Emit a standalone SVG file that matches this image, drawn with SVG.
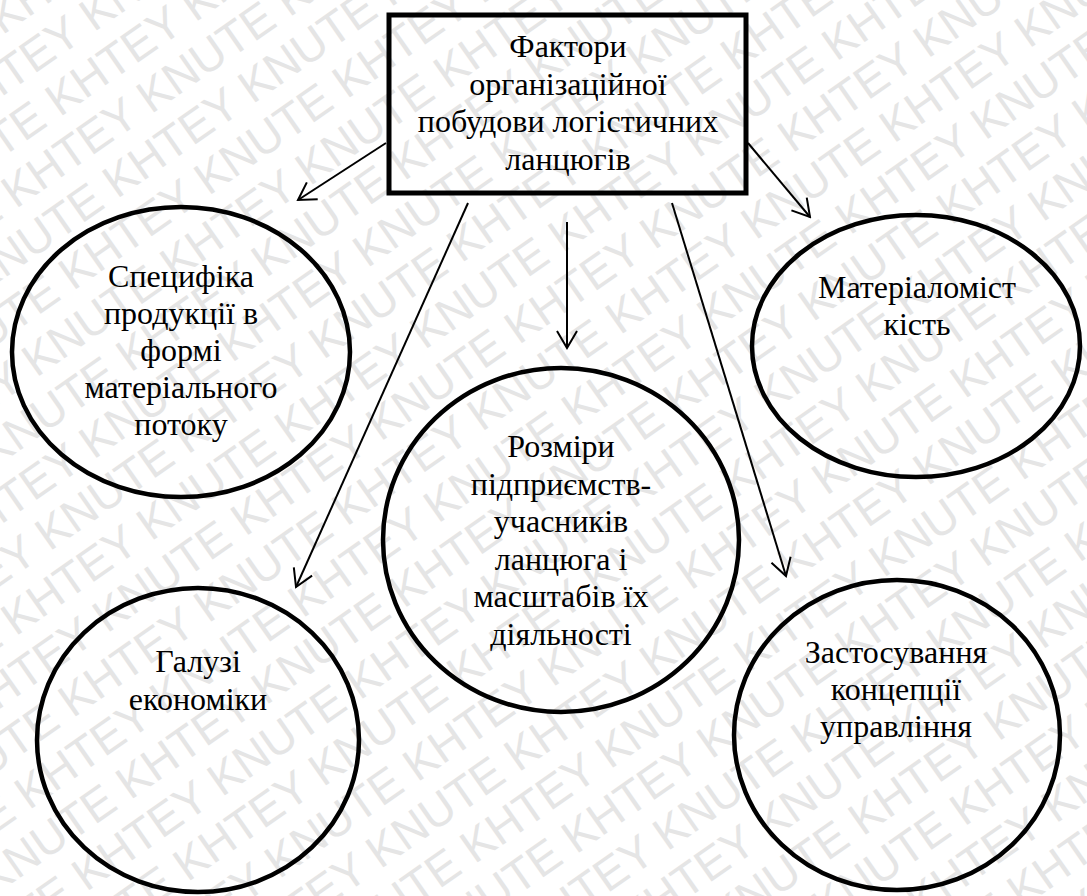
<svg xmlns="http://www.w3.org/2000/svg" width="1087" height="896" viewBox="0 0 1087 896">
<style>
.wm{font-family:"Liberation Sans",Arial,sans-serif;font-size:46px;fill:#e5e5e5;}
.t{font-family:"Liberation Serif","Times New Roman",serif;font-size:32px;fill:#000;text-anchor:middle;}
.node{fill:none;stroke:#000;stroke-width:4.5;}
.box{fill:none;stroke:#000;stroke-width:5;}
.conn{stroke:#000;stroke-width:2;fill:none;marker-end:url(#arr);}
</style>
<defs>
<marker id="arr" markerUnits="userSpaceOnUse" viewBox="-19 -12 21 24" refX="0" refY="0" markerWidth="21" markerHeight="24" orient="auto">
<path d="M-17,-10 L0,0 L-17,10" fill="none" stroke="#000" stroke-width="2"/>
</marker>
</defs>
<rect width="1087" height="896" fill="#fff"/>
<g id="watermark" transform="rotate(-35 543 448)">
<text class="wm" x="-500" y="-300">KNUTE KHTEY KNUTE KHTEY KNUTE KHTEY KNUTE KHTEY KNUTE KHTEY KNUTE KHTEY KNUTE KHTEY</text>
<text class="wm" x="-420" y="-250">KHTEY KNUTE KHTEY KNUTE KHTEY KNUTE KHTEY KNUTE KHTEY KNUTE KHTEY KNUTE KHTEY KNUTE</text>
<text class="wm" x="-500" y="-200">KNUTE KHTEY KNUTE KHTEY KNUTE KHTEY KNUTE KHTEY KNUTE KHTEY KNUTE KHTEY KNUTE KHTEY</text>
<text class="wm" x="-420" y="-150">KHTEY KNUTE KHTEY KNUTE KHTEY KNUTE KHTEY KNUTE KHTEY KNUTE KHTEY KNUTE KHTEY KNUTE</text>
<text class="wm" x="-500" y="-100">KNUTE KHTEY KNUTE KHTEY KNUTE KHTEY KNUTE KHTEY KNUTE KHTEY KNUTE KHTEY KNUTE KHTEY</text>
<text class="wm" x="-420" y="-50">KHTEY KNUTE KHTEY KNUTE KHTEY KNUTE KHTEY KNUTE KHTEY KNUTE KHTEY KNUTE KHTEY KNUTE</text>
<text class="wm" x="-500" y="0">KNUTE KHTEY KNUTE KHTEY KNUTE KHTEY KNUTE KHTEY KNUTE KHTEY KNUTE KHTEY KNUTE KHTEY</text>
<text class="wm" x="-420" y="50">KHTEY KNUTE KHTEY KNUTE KHTEY KNUTE KHTEY KNUTE KHTEY KNUTE KHTEY KNUTE KHTEY KNUTE</text>
<text class="wm" x="-500" y="100">KNUTE KHTEY KNUTE KHTEY KNUTE KHTEY KNUTE KHTEY KNUTE KHTEY KNUTE KHTEY KNUTE KHTEY</text>
<text class="wm" x="-420" y="150">KHTEY KNUTE KHTEY KNUTE KHTEY KNUTE KHTEY KNUTE KHTEY KNUTE KHTEY KNUTE KHTEY KNUTE</text>
<text class="wm" x="-500" y="200">KNUTE KHTEY KNUTE KHTEY KNUTE KHTEY KNUTE KHTEY KNUTE KHTEY KNUTE KHTEY KNUTE KHTEY</text>
<text class="wm" x="-420" y="250">KHTEY KNUTE KHTEY KNUTE KHTEY KNUTE KHTEY KNUTE KHTEY KNUTE KHTEY KNUTE KHTEY KNUTE</text>
<text class="wm" x="-500" y="300">KNUTE KHTEY KNUTE KHTEY KNUTE KHTEY KNUTE KHTEY KNUTE KHTEY KNUTE KHTEY KNUTE KHTEY</text>
<text class="wm" x="-420" y="350">KHTEY KNUTE KHTEY KNUTE KHTEY KNUTE KHTEY KNUTE KHTEY KNUTE KHTEY KNUTE KHTEY KNUTE</text>
<text class="wm" x="-500" y="400">KNUTE KHTEY KNUTE KHTEY KNUTE KHTEY KNUTE KHTEY KNUTE KHTEY KNUTE KHTEY KNUTE KHTEY</text>
<text class="wm" x="-420" y="450">KHTEY KNUTE KHTEY KNUTE KHTEY KNUTE KHTEY KNUTE KHTEY KNUTE KHTEY KNUTE KHTEY KNUTE</text>
<text class="wm" x="-500" y="500">KNUTE KHTEY KNUTE KHTEY KNUTE KHTEY KNUTE KHTEY KNUTE KHTEY KNUTE KHTEY KNUTE KHTEY</text>
<text class="wm" x="-420" y="550">KHTEY KNUTE KHTEY KNUTE KHTEY KNUTE KHTEY KNUTE KHTEY KNUTE KHTEY KNUTE KHTEY KNUTE</text>
<text class="wm" x="-500" y="600">KNUTE KHTEY KNUTE KHTEY KNUTE KHTEY KNUTE KHTEY KNUTE KHTEY KNUTE KHTEY KNUTE KHTEY</text>
<text class="wm" x="-420" y="650">KHTEY KNUTE KHTEY KNUTE KHTEY KNUTE KHTEY KNUTE KHTEY KNUTE KHTEY KNUTE KHTEY KNUTE</text>
<text class="wm" x="-500" y="700">KNUTE KHTEY KNUTE KHTEY KNUTE KHTEY KNUTE KHTEY KNUTE KHTEY KNUTE KHTEY KNUTE KHTEY</text>
<text class="wm" x="-420" y="750">KHTEY KNUTE KHTEY KNUTE KHTEY KNUTE KHTEY KNUTE KHTEY KNUTE KHTEY KNUTE KHTEY KNUTE</text>
<text class="wm" x="-500" y="800">KNUTE KHTEY KNUTE KHTEY KNUTE KHTEY KNUTE KHTEY KNUTE KHTEY KNUTE KHTEY KNUTE KHTEY</text>
<text class="wm" x="-420" y="850">KHTEY KNUTE KHTEY KNUTE KHTEY KNUTE KHTEY KNUTE KHTEY KNUTE KHTEY KNUTE KHTEY KNUTE</text>
<text class="wm" x="-500" y="900">KNUTE KHTEY KNUTE KHTEY KNUTE KHTEY KNUTE KHTEY KNUTE KHTEY KNUTE KHTEY KNUTE KHTEY</text>
<text class="wm" x="-420" y="950">KHTEY KNUTE KHTEY KNUTE KHTEY KNUTE KHTEY KNUTE KHTEY KNUTE KHTEY KNUTE KHTEY KNUTE</text>
<text class="wm" x="-500" y="1000">KNUTE KHTEY KNUTE KHTEY KNUTE KHTEY KNUTE KHTEY KNUTE KHTEY KNUTE KHTEY KNUTE KHTEY</text>
<text class="wm" x="-420" y="1050">KHTEY KNUTE KHTEY KNUTE KHTEY KNUTE KHTEY KNUTE KHTEY KNUTE KHTEY KNUTE KHTEY KNUTE</text>
<text class="wm" x="-500" y="1100">KNUTE KHTEY KNUTE KHTEY KNUTE KHTEY KNUTE KHTEY KNUTE KHTEY KNUTE KHTEY KNUTE KHTEY</text>
<text class="wm" x="-420" y="1150">KHTEY KNUTE KHTEY KNUTE KHTEY KNUTE KHTEY KNUTE KHTEY KNUTE KHTEY KNUTE KHTEY KNUTE</text>
<text class="wm" x="-500" y="1200">KNUTE KHTEY KNUTE KHTEY KNUTE KHTEY KNUTE KHTEY KNUTE KHTEY KNUTE KHTEY KNUTE KHTEY</text>
</g>
<g id="connectors">
<line class="conn" x1="386" y1="143" x2="298" y2="200"/>
<line class="conn" x1="748" y1="143" x2="810" y2="217"/>
<line class="conn" x1="468" y1="203" x2="296" y2="587"/>
<line class="conn" x1="567" y1="222" x2="567" y2="348"/>
<line class="conn" x1="672" y1="203" x2="786" y2="576"/>
</g>
<g id="factors">
<rect class="box" x="389" y="15" width="357" height="178"/>
<text class="t"><tspan x="568" y="57">Фактори</tspan><tspan x="568" y="94.5">організаційної</tspan><tspan x="568" y="132">побудови логістичних</tspan><tspan x="568" y="169.5">ланцюгів</tspan></text>
</g>
<g id="specifics">
<ellipse class="node" cx="181" cy="352" rx="169" ry="145"/>
<text class="t"><tspan x="181" y="287">Специфіка</tspan><tspan x="181" y="324">продукції в</tspan><tspan x="181" y="361">формі</tspan><tspan x="181" y="398">матеріального</tspan><tspan x="181" y="435">потоку</tspan></text>
</g>
<g id="material">
<ellipse class="node" cx="916" cy="346" rx="164" ry="131"/>
<text class="t"><tspan x="917" y="298">Матеріаломіст</tspan><tspan x="917" y="335">кість</tspan></text>
</g>
<g id="sizes">
<ellipse class="node" cx="561" cy="540" rx="178" ry="172"/>
<text class="t"><tspan x="561" y="457">Розміри</tspan><tspan x="561" y="494.5">підприємств-</tspan><tspan x="561" y="532">учасників</tspan><tspan x="561" y="569.5">ланцюга і</tspan><tspan x="561" y="607">масштабів їх</tspan><tspan x="561" y="644.5">діяльності</tspan></text>
</g>
<g id="industry">
<ellipse class="node" cx="198" cy="740" rx="161" ry="152"/>
<text class="t"><tspan x="198" y="672">Галузі</tspan><tspan x="198" y="710">економіки</tspan></text>
</g>
<g id="management">
<ellipse class="node" cx="897" cy="735" rx="163" ry="155"/>
<text class="t"><tspan x="896" y="663">Застосування</tspan><tspan x="896" y="700">концепції</tspan><tspan x="896" y="737">управління</tspan></text>
</g>
</svg>
